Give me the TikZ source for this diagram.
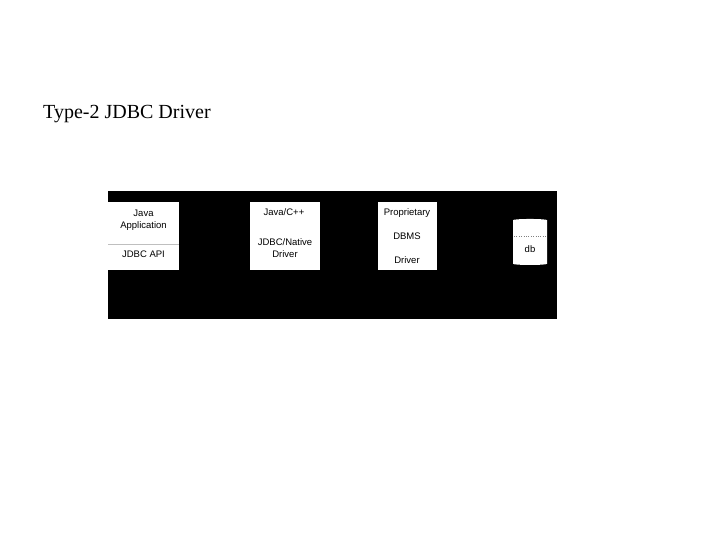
\documentclass[tikz,border=0pt]{standalone}
\usepackage{fontspec}
\setmainfont{Liberation Serif}
\newfontfamily\arial{Liberation Sans}
\usetikzlibrary{shapes.geometric}
\begin{document}
\begin{tikzpicture}[x=1pt,y=-1pt,
  lbl/.style={font=\arial\fontsize{9.5}{11.5}\selectfont,text=black,align=center,inner sep=0}]
\useasboundingbox[fill=white] (0,0) rectangle (720,540);
\node[anchor=base west,inner sep=0,font=\fontsize{20}{23}\selectfont] (title) at (43,119) {Type-2 JDBC Driver};
\fill[black] (108,191) rectangle (557,319);
\fill[white] (108,202) rectangle (179,270);
\draw[gray!50] (108,244) -- (179,244);
\fill[white] (250,202) rectangle (320,270);
\fill[white] (378,202) rectangle (437,270);
\node[lbl] (a1) at (143.5,220) {Java\\Application};
\node[lbl] (a2) at (143.5,254) {JDBC API};
\node[lbl] (b1) at (284,212) {Java/C++};
\node[lbl] (b2) at (285,248) {JDBC/Native\\Driver};
\node[lbl] (c1) at (407,213) {Proprietary};
\node[lbl] (c2) at (407,236) {DBMS};
\node[lbl] (c3) at (407,260) {Driver};
\node[cylinder,shape border rotate=90,aspect=0.35,fill=white,minimum width=34,minimum height=46] (db) at (530,243) {};
\draw[dotted,gray] (514,236) -- (546,236);
\node[lbl] (d) at (530,249) {db};
\end{tikzpicture}
\end{document}
